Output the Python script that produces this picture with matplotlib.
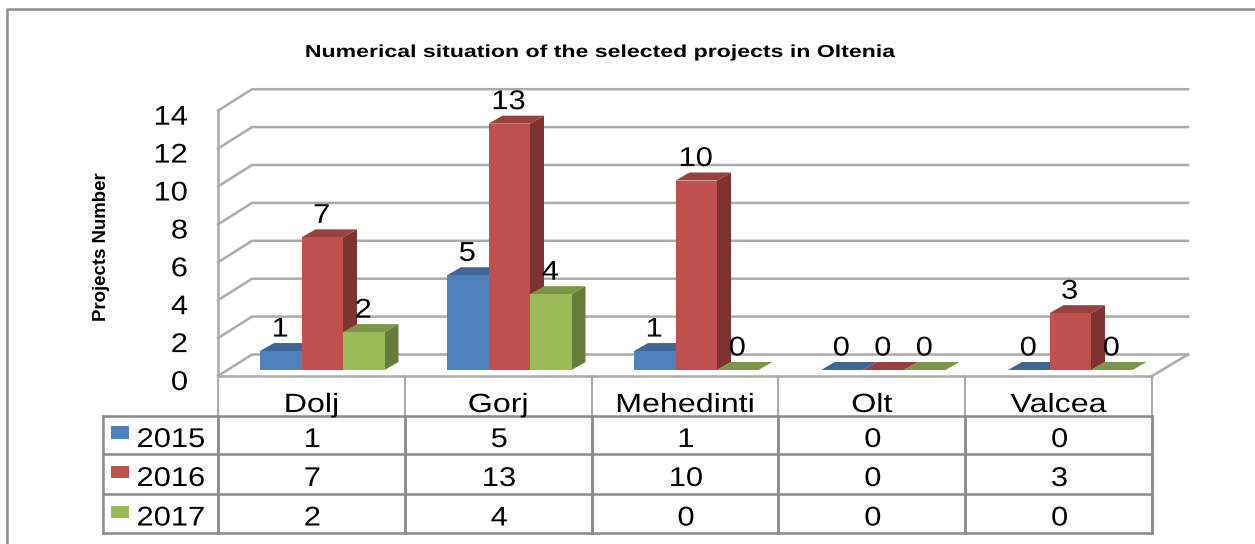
import matplotlib
matplotlib.use("Agg")
import matplotlib.pyplot as plt
from matplotlib.patches import Polygon, Rectangle
from matplotlib.patheffects import AbstractPathEffect
from matplotlib.transforms import Affine2D

categories = ["Dolj", "Gorj", "Mehedinti", "Olt", "Valcea"]
series_names = ["2015", "2016", "2017"]
values_2015 = [1, 5, 1, 0, 0]
values_2016 = [7, 13, 10, 0, 3]
values_2017 = [2, 4, 0, 0, 0]
y_ticks = [0, 2, 4, 6, 8, 10, 12, 14]
title = "Numerical situation of the selected projects in Oltenia"
y_title = "Projects Number"

series = [values_2015, values_2016, values_2017]
front = ["#4F81BD", "#C0504D", "#9BBB59"]
top = ["#3E6797", "#9A403E", "#7C9647"]
side = ["#2F4D71", "#7F3331", "#677C3B"]
GRID = "#ABABAB"
TAB = "#8A8A8A"

W, H = 1255, 544
fig = plt.figure(figsize=(W / 100, H / 100), dpi=100)
ax = fig.add_axes([0, 0, 1, 1])
ax.set_xlim(0, W)
ax.set_ylim(H, 0)
ax.axis("off")
plt.rcParams["font.family"] = ["Liberation Sans", "DejaVu Sans"]


class Stretch(AbstractPathEffect):
    """Widen text horizontally about its anchor, as in the reference."""
    def __init__(self, cx, sx):
        super().__init__()
        self.cx, self.sx = cx, sx

    def draw_path(self, renderer, gc, tpath, affine, rgbFace=None):
        a = affine + Affine2D().translate(-self.cx, 0).scale(self.sx, 1).translate(self.cx, 0)
        renderer.draw_path(gc, tpath, a, rgbFace)


def label(x, y, s, size=19.5, sx=1.14, ha="center", **kw):
    t = ax.text(x, y, s, fontsize=size, ha=ha, va="center_baseline", color="black", zorder=20, **kw)
    t.set_path_effects([Stretch(x, sx)])
    return t


# geometry of the pseudo-3D plot, in pixels
FX0, FX1 = 218, 1152      # front floor edge
BX0, BX1 = 252, 1188      # back wall edge
F0, B0 = 376, 354.5       # y of value 0, front / back
UNIT = 18.95              # pixels per value unit
BASE = 370                # bar base y
BAR_X0, CAT_STEP, BAR_W = 260, 187, 41.5
DX, DY = 14, 8

for v in y_ticks:
    yb, yf = B0 - UNIT * v, F0 - UNIT * v
    ax.plot([FX0, BX0, BX1], [yf, yb, yb], color=GRID, lw=1.8, zorder=1, solid_joinstyle="miter")
    label(188, yf + 4, str(v), ha="right")
ax.plot([FX0, FX0], [F0, F0 - UNIT * max(y_ticks)], color=GRID, lw=1.8, zorder=1)
ax.plot([BX1, FX1], [B0, F0], color=GRID, lw=1.8, zorder=1)

# bars
for c in range(len(categories)):
    for s, vals in enumerate(series):
        v = vals[c]
        x0 = BAR_X0 + CAT_STEP * c + BAR_W * s
        x1 = x0 + BAR_W
        yt = BASE - UNIT * v
        z = 3 + c * 3 + s * 0.1
        ax.add_patch(Polygon([(x1, BASE), (x1 + DX, BASE - DY), (x1 + DX, yt - DY), (x1, yt)],
                             fc=side[s], ec="none", zorder=z))
        ax.add_patch(Polygon([(x0, yt), (x0 + DX, yt - DY), (x1 + DX, yt - DY), (x1, yt)],
                             fc=top[s], ec="none", zorder=z))
        ax.add_patch(Rectangle((x0, yt), BAR_W, v * UNIT, fc=front[s], ec="none", zorder=z))
        label((x0 + x1) / 2 - 0.5, yt - 24.5, str(v))

# data table
ROW_Y = [416, 454, 494, 533]
TX0 = 103
col_x = [FX0 + (FX1 - FX0) * i / len(categories) for i in range(len(categories) + 1)]
for y in ROW_Y:
    ax.plot([TX0, FX1], [y, y], color=TAB, lw=1.8, zorder=10)
ax.plot([FX0, FX1], [F0, F0], color=GRID, lw=1.8, zorder=10)
ax.plot([TX0, TX0], [ROW_Y[0], ROW_Y[-1]], color=TAB, lw=1.8, zorder=10)
for x in col_x:
    ax.plot([x, x], [F0, ROW_Y[0]], color=GRID, lw=1.5, zorder=10)
    ax.plot([x, x], [ROW_Y[0], ROW_Y[-1]], color=TAB, lw=2.0, zorder=10)

for c, name in enumerate(categories):
    cx = (col_x[c] + col_x[c + 1]) / 2 + 1
    label(cx - 1, 402.5, name, size=19, sx=1.22)
    for s, vals in enumerate(series):
        label(cx, (ROW_Y[s] + ROW_Y[s + 1]) / 2 + 2, str(vals[c]))

for s, name in enumerate(series_names):
    ym = (ROW_Y[s] + ROW_Y[s + 1]) / 2
    ax.add_patch(Rectangle((111, ym - 9 + 0.5 * s), 18, 12.5, fc=front[s], ec="none", zorder=12))
    label(171, ym + 2, name, size=19.5, sx=1.14)

# title, axis title, outer frame
label(601, 51, title, size=12.5, sx=1.33, fontweight="bold")
ax.text(101, 247, y_title, rotation=90, fontsize=13.4, fontweight="bold", ha="center", va="center", zorder=20)
ax.plot([6.5, 6.5, W], [H, 9, 9], color="#8C8C8C", lw=1.8, zorder=0)

fig.savefig("out.png", dpi=100)
